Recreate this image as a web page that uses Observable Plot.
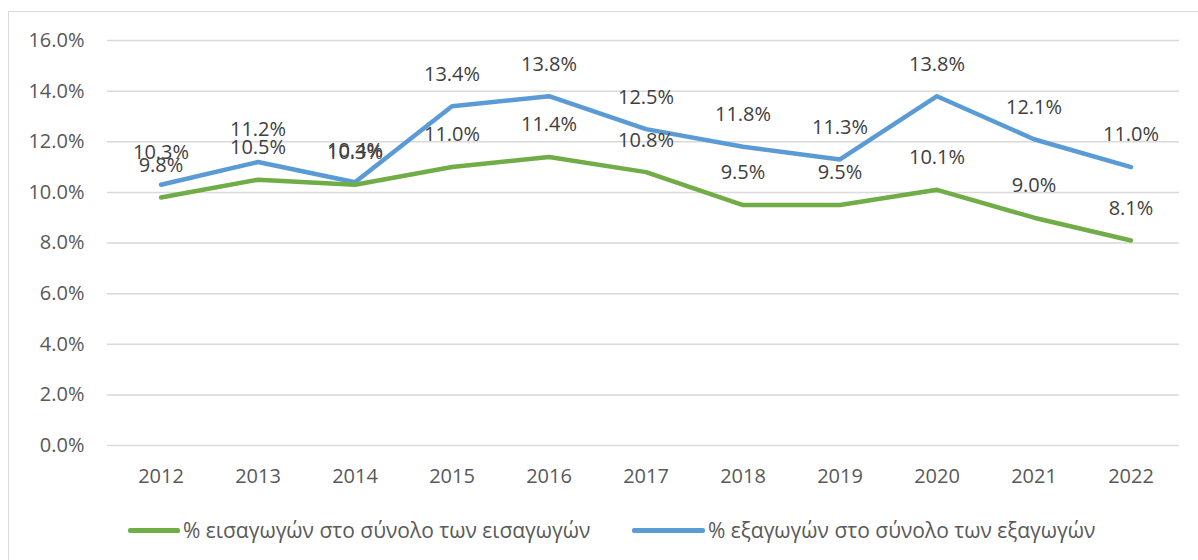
<!DOCTYPE html>
<html>
<head>
<meta charset="utf-8">
<script src="https://cdn.jsdelivr.net/npm/d3@7"></script>
<script src="https://cdn.jsdelivr.net/npm/@observablehq/plot@0.6"></script>
<style>
  html, body { margin: 0; padding: 0; background: #fff; }
  body { width: 1198px; height: 560px; position: relative; overflow: hidden; font-family: "Open Sans", sans-serif; }
  #frame { position: absolute; left: 8px; top: 11px; width: 1300px; height: 700px; border-left: 1px solid #d9d9d9; border-top: 1px solid #d9d9d9; }
  #chart { position: absolute; left: 0; top: 0; }
  #legend { position: absolute; top: 516px; left: 0; width: 1198px; height: 28px; font-size: 21px; color: #595959; }
  .item { position: absolute; top: 0; display: flex; align-items: center; height: 28px; white-space: nowrap; }
  .sw { display: inline-block; height: 5px; border-radius: 2px; margin-right: 3px; }
</style>
</head>
<body>
<div id="frame"></div>
<div id="chart"></div>
<div id="legend"></div>
<script>
const years = ["2012","2013","2014","2015","2016","2017","2018","2019","2020","2021","2022"];
const importsShare = [9.8, 10.5, 10.3, 11.0, 11.4, 10.8, 9.5, 9.5, 10.1, 9.0, 8.1];
const exportsShare = [10.3, 11.2, 10.4, 13.4, 13.8, 12.5, 11.8, 11.3, 13.8, 12.1, 11.0];
const seriesNames = ["% εισαγωγών στο σύνολο των εισαγωγών", "% εξαγωγών στο σύνολο των εξαγωγών"];
const seriesColors = ["#70AD47", "#5B9BD5"];
const yTicks = [0, 2, 4, 6, 8, 10, 12, 14, 16];

const imp = years.map((y, i) => ({year: y, value: importsShare[i], series: seriesNames[0]}));
const exp = years.map((y, i) => ({year: y, value: exportsShare[i], series: seriesNames[1]}));
const fmt = v => d3.format(".1f")(v) + "%";

const plot = Plot.plot({
  width: 1198,
  height: 500,
  marginLeft: 112,
  marginRight: 19,
  marginTop: 40,
  marginBottom: 55,
  style: {fontFamily: "'Open Sans', sans-serif", fontSize: "20px", color: "#595959", background: "transparent"},
  x: {type: "band", domain: years, padding: 0, align: 0.5, label: null},
  y: {domain: [0, 16], label: null},
  color: {domain: seriesNames, range: seriesColors},
  marks: [
    Plot.ruleY(yTicks, {stroke: "#d9d9d9", strokeWidth: 1.5, insetLeft: -5, strokeOpacity: 1}),
    Plot.axisY({ticks: yTicks, tickSize: 0, tickPadding: 28, tickFormat: fmt, label: null, fontSize: 20}),
    Plot.axisX({tickSize: 0, tickPadding: 23, label: null, fontSize: 20}),
    Plot.line(exp, {x: "year", y: "value", stroke: seriesColors[1], strokeWidth: 4.5, strokeLinejoin: "round", strokeLinecap: "round"}),
    Plot.line(imp, {x: "year", y: "value", stroke: seriesColors[0], strokeWidth: 4.5, strokeLinejoin: "round", strokeLinecap: "round"}),
    Plot.text(imp, {x: "year", y: "value", text: d => fmt(d.value), dy: -32, fill: "#404040", fontSize: 20}),
    Plot.text(exp, {x: "year", y: "value", text: d => fmt(d.value), dy: -32, fill: "#404040", fontSize: 20})
  ]
});
document.getElementById("chart").appendChild(plot);

const legend = document.getElementById("legend");
const pos = [{sw: 128, w: 52}, {sw: 632, w: 73}];
seriesNames.forEach((n, i) => {
  const it = document.createElement("div");
  it.className = "item";
  it.style.left = pos[i].sw + "px";
  const s = document.createElement("span");
  s.className = "sw";
  s.style.width = pos[i].w + "px";
  s.style.background = seriesColors[i];
  const t = document.createElement("span");
  t.textContent = n;
  it.appendChild(s); it.appendChild(t);
  legend.appendChild(it);
});
</script>
</body>
</html>
